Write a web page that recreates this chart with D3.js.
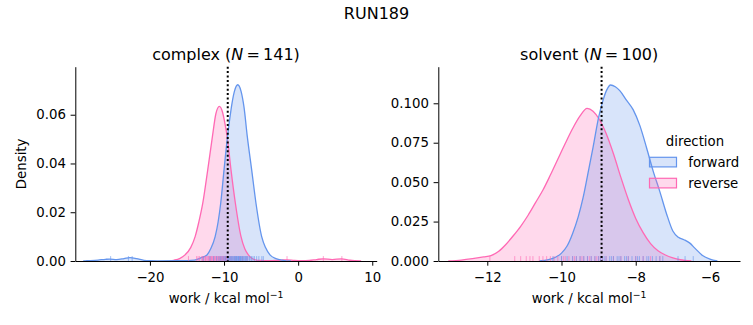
<!DOCTYPE html>
<html>
<head>
<meta charset="utf-8">
<script src="https://cdn.jsdelivr.net/npm/d3@7"></script>
<style>
  html, body { margin: 0; padding: 0; background: #fff; }
  svg { display: block; font-family: "DejaVu Sans", sans-serif; }
</style>
</head>
<body>
<div id="chart"></div>
<script>
// ---------------- data ----------------
const suptitle = "RUN189";
const panelNames = ["complex", "solvent"];
const panelN = [141, 100];
const directions = ["forward", "reverse"];
const colors = ["#6495ED", "#FF69B4"];

// complex: KDE curves
const complexForwardX = [-29, -28.5, -27, -26, -25.4, -24.5, -23.5, -22.7, -21.8, -20.8, -20, -19, -16, -14, -13.2, -12.3, -11.8, -11.2, -10.8, -10.45, -10, -9.55, -9.2, -8.92, -8.6, -8.15, -7.7, -7.3, -6.86, -6.27, -5.69, -4.92, -4.4, -3.8, -3.0, -2.0, -1.0];
const complexForwardY = [0, 0.0001, 0.0004, 0.0007, 0.0008, 0.0006, 0.0010, 0.0014, 0.0010, 0.0003, 0.0001, 0.00005, 0.0001, 0.0004, 0.0012, 0.0025, 0.0050, 0.0100, 0.0160, 0.0237, 0.0374, 0.0505, 0.0590, 0.0648, 0.0696, 0.0723, 0.0696, 0.0630, 0.0510, 0.0374, 0.0237, 0.0100, 0.0055, 0.0025, 0.0010, 0.0003, 0];
const complexReverseX = [-17.3, -16.8, -16, -15.26, -14.5, -13.9, -13.4, -12.87, -12.2, -11.57, -11.1, -10.63, -10.2, -9.9, -9.55, -9.06, -8.47, -7.71, -7.2, -6.72, -6.2, -5.8, -5, -4, -3, -2.2, -1.5, -0.5, 0.5, 1.5, 2.5, 3.4, 4.6, 5.86, 7, 8.5];
const complexReverseY = [0, 0.0003, 0.0010, 0.0025, 0.0055, 0.0100, 0.0160, 0.0237, 0.0374, 0.0510, 0.0604, 0.0634, 0.0610, 0.0568, 0.0505, 0.0374, 0.0237, 0.0100, 0.0050, 0.0025, 0.0010, 0.0005, 0.0002, 0.0001, 0.0002, 0.0004, 0.0005, 0.0002, 0.0001, 0.0002, 0.0006, 0.0009, 0.0006, 0.0009, 0.0003, 0];

// solvent: KDE curves
const solventForwardX = [-10.6, -10.35, -10.15, -10.0, -9.85, -9.7, -9.55, -9.42, -9.3, -9.15, -9.0, -8.88, -8.78, -8.68, -8.55, -8.43, -8.25, -8.07, -7.89, -7.71, -7.53, -7.35, -7.17, -7.0, -6.85, -6.7, -6.55, -6.4, -6.2, -6.0, -5.8];
const solventForwardY = [0, 0.0008, 0.0025, 0.0050, 0.0095, 0.0175, 0.0280, 0.0400, 0.0540, 0.0720, 0.0910, 0.1020, 0.1085, 0.1116, 0.1105, 0.1080, 0.1020, 0.0960, 0.0860, 0.0720, 0.0570, 0.0440, 0.0300, 0.0190, 0.0150, 0.0135, 0.0115, 0.0080, 0.0035, 0.0012, 0];
const solventReverseX = [-13.05, -12.7, -12.4, -12.1, -11.9, -11.7, -11.5, -11.3, -11.1, -10.9, -10.7, -10.5, -10.3, -10.1, -9.9, -9.7, -9.5, -9.31, -9.15, -9.0, -8.8, -8.6, -8.4, -8.2, -8.0, -7.8, -7.6, -7.4, -7.2, -7.0, -6.8, -6.5];
const solventReverseY = [0, 0.0006, 0.0015, 0.0026, 0.0034, 0.0060, 0.0105, 0.0160, 0.0220, 0.0290, 0.0370, 0.0450, 0.0545, 0.0645, 0.0745, 0.0840, 0.0920, 0.0968, 0.0950, 0.0905, 0.0810, 0.0680, 0.0530, 0.0390, 0.0270, 0.0180, 0.0110, 0.0065, 0.0038, 0.0020, 0.0008, 0];

// rug samples (work values)
const complexForwardRug = [-25.3, -22.9, -22.4, -12.8, -11.9, -11.4, -11.0, -10.7, -10.5, -10.3, -10.1, -9.9, -9.8, -9.6, -9.5, -9.4, -9.3, -9.2, -9.1, -9.0, -8.9, -8.8, -8.7, -8.6, -8.5, -8.45, -8.35, -8.3, -8.2, -8.1, -8.05, -8.0, -7.9, -7.8, -7.75, -7.7, -7.6, -7.5, -7.4, -7.3, -7.2, -7.1, -7.0, -6.9, -6.8, -6.6, -6.5, -6.3, -6.1, -5.9, -5.6, -5.3, -4.9, -4.7];
const complexReverseRug = [-14.8, -13.7, -13.5, -13.3, -13.0, -12.9, -12.8, -12.6, -12.5, -12.4, -12.2, -12.1, -12.0, -11.9, -11.8, -11.7, -11.6, -11.5, -11.4, -11.3, -11.2, -11.1, -11.0, -10.9, -10.8, -10.7, -10.6, -10.5, -10.4, -10.3, -10.2, -10.1, -10.0, -9.9, -9.8, -9.7, -9.6, -9.5, -9.3, -9.1, -8.9, -8.6, -8.3, -7.9, -7.5, -6.9, -1.5, 3.4, 5.9];
const solventForwardRug = [-10.23, -10.0, -9.85, -9.7, -9.6, -9.5, -9.4, -9.3, -9.2, -9.1, -9.0, -8.95, -8.9, -8.85, -8.8, -8.7, -8.65, -8.6, -8.5, -8.45, -8.4, -8.3, -8.25, -8.2, -8.1, -8.0, -7.95, -7.9, -7.8, -7.7, -7.65, -7.55, -7.45, -7.35, -7.27, -6.86, -6.67, -6.45];
const solventReverseRug = [-11.93, -11.26, -11.1, -10.95, -10.85, -10.77, -10.6, -10.5, -10.4, -10.3, -10.2, -10.1, -10.0, -9.95, -9.9, -9.8, -9.7, -9.65, -9.6, -9.5, -9.45, -9.4, -9.3, -9.25, -9.2, -9.1, -9.05, -9.0, -8.95, -8.9, -8.8, -8.6, -8.4, -8.2, -8.0, -7.8, -7.6, -7.35];

// reference (dotted) lines
const refLines = [-9.5, -8.92];

// tick values
const complexXTicks = [-20, -10, 0, 10];
const complexYTicks = [0, 0.02, 0.04, 0.06];
const solventXTicks = [-12, -10, -8, -6];
const solventYTicks = [0, 0.025, 0.05, 0.075, 0.1];

// ---------------- layout ----------------
const W = 753, H = 325;
const svg = d3.select("#chart").append("svg").attr("width", W).attr("height", H);

const panels = [
  { name: panelNames[0], n: panelN[0], left: 75.3, right: 376.7, xDomain: [-30.07, 10.6], yDomain: [0, 0.0797],
    xTicks: complexXTicks, yTicks: complexYTicks, yFmt: d3.format(".2f"),
    curves: [[complexForwardX, complexForwardY], [complexReverseX, complexReverseY]],
    rugs: [complexForwardRug, complexReverseRug], ref: refLines[0], ylabel: true, legend: false },
  { name: panelNames[1], n: panelN[1], left: 438.3, right: 740, xDomain: [-13.32, -5.19], yDomain: [0, 0.1232],
    xTicks: solventXTicks, yTicks: solventYTicks, yFmt: d3.format(".3f"),
    curves: [[solventForwardX, solventForwardY], [solventReverseX, solventReverseY]],
    rugs: [solventForwardRug, solventReverseRug], ref: refLines[1], ylabel: false, legend: true }
];
const plotTop = 66.7, plotBottom = 261;
const fs = 13.3;
const minus = s => s.replace(/-/g, "\u2212");

svg.append("text").attr("x", W / 2).attr("y", 19).attr("text-anchor", "middle")
  .attr("font-size", 16).attr("fill", "#000").text(suptitle);

panels.forEach(p => {
  const x = d3.scaleLinear().domain(p.xDomain).range([p.left, p.right]);
  const y = d3.scaleLinear().domain(p.yDomain).range([plotBottom, plotTop]);
  const g = svg.append("g");

  const area = d3.area().x(d => x(d[0])).y0(y(0)).y1(d => y(d[1])).curve(d3.curveMonotoneX);
  const line = d3.line().x(d => x(d[0])).y(d => y(d[1])).curve(d3.curveMonotoneX);

  // draw reverse first, forward on top
  [1, 0].forEach(i => {
    const [xs, ys] = p.curves[i];
    const pts = xs.map((v, k) => [v, ys[k]]);
    g.append("path").datum(pts).attr("d", area).attr("fill", colors[i]).attr("fill-opacity", 0.25).attr("stroke", "none");
  });
  [1, 0].forEach(i => {
    const [xs, ys] = p.curves[i];
    const pts = xs.map((v, k) => [v, ys[k]]);
    g.append("path").datum(pts).attr("d", line).attr("fill", "none").attr("stroke", colors[i]).attr("stroke-width", 1.3);
  });

  // rugs
  [1, 0].forEach(i => {
    g.append("g").selectAll("line").data(p.rugs[i]).join("line")
      .attr("x1", d => x(d)).attr("x2", d => x(d))
      .attr("y1", plotBottom).attr("y2", plotBottom - 4.9)
      .attr("stroke", colors[i]).attr("stroke-width", 1).attr("stroke-opacity", 0.6);
  });

  // dotted reference line
  g.append("line").attr("x1", x(p.ref)).attr("x2", x(p.ref)).attr("y1", plotTop).attr("y2", plotBottom)
    .attr("stroke", "#000").attr("stroke-width", 2).attr("stroke-dasharray", "2,2.4");

  // axes
  const xAxis = d3.axisBottom(x).tickValues(p.xTicks).tickSizeOuter(0).tickSizeInner(4.7).tickPadding(4.7)
    .tickFormat(d => minus(String(d)));
  const yAxis = d3.axisLeft(y).tickValues(p.yTicks).tickSizeOuter(0).tickSizeInner(4.7).tickPadding(4.7)
    .tickFormat(p.yFmt);
  const gx = g.append("g").attr("transform", `translate(0,${plotBottom})`).call(xAxis);
  const gy = g.append("g").attr("transform", `translate(${p.left},0)`).call(yAxis);
  [gx, gy].forEach(a => {
    a.attr("font-family", "DejaVu Sans, sans-serif").attr("font-size", fs);
    a.selectAll("path.domain").attr("stroke", "#000").attr("stroke-width", 1);
    a.selectAll(".tick line").attr("stroke", "#000").attr("stroke-width", 1);
    a.selectAll(".tick text").attr("fill", "#000");
  });
  gx.selectAll(".tick text").attr("dy", null).attr("y", 21);

  // title
  const t = g.append("text").attr("x", (p.left + p.right) / 2).attr("y", 60).attr("text-anchor", "middle")
    .attr("font-size", 16).attr("fill", "#000");
  t.append("tspan").text(p.name + " (");
  t.append("tspan").attr("font-style", "italic").text("N");
  t.append("tspan").text("\u2009=\u2009" + p.n + ")");

  // x label
  const xl = g.append("text").attr("x", (p.left + p.right) / 2).attr("y", 303).attr("text-anchor", "middle")
    .attr("font-size", fs).attr("fill", "#000");
  xl.append("tspan").text("work / kcal mol");
  xl.append("tspan").attr("font-size", 9.3).attr("dy", -5.5).text("\u22121");

  if (p.ylabel) {
    g.append("text").attr("transform", `translate(26,${(plotTop + plotBottom) / 2}) rotate(-90)`)
      .attr("text-anchor", "middle").attr("font-size", fs).attr("fill", "#000").text("Density");
  }

  if (p.legend) {
    const lg = svg.append("g");
    lg.append("text").attr("x", 695).attr("y", 146).attr("text-anchor", "middle")
      .attr("font-size", fs).attr("fill", "#000").text("direction");
    directions.forEach((d, i) => {
      const yy = 157.3 + i * 21;
      lg.append("rect").attr("x", 649.5).attr("y", yy).attr("width", 27).attr("height", 9.6)
        .attr("fill", colors[i]).attr("fill-opacity", 0.25).attr("stroke", colors[i]).attr("stroke-width", 1.2);
      lg.append("text").attr("x", 688.3).attr("y", yy + 9.8).attr("font-size", fs).attr("fill", "#000").text(d);
    });
  }
});
</script>
</body>
</html>
